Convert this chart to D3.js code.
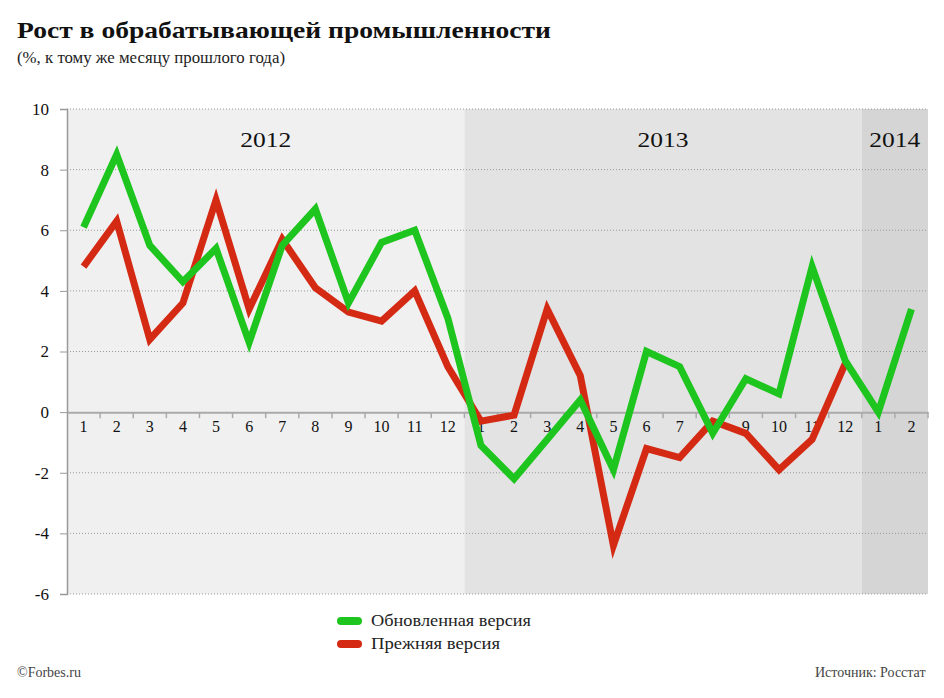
<!DOCTYPE html>
<html><head><meta charset="utf-8">
<script src="https://cdn.jsdelivr.net/npm/d3@7"></script>
<style>body{margin:0;background:#fff}svg{display:block}</style>
</head><body>
<svg id="c" width="944" height="698"></svg>
<script>
const months = ["1","2","3","4","5","6","7","8","9","10","11","12","1","2","3","4","5","6","7","8","9","10","11","12","1","2"];
const years = [{label:"2012", n:12},{label:"2013", n:12},{label:"2014", n:2}];
const updated = [6.1,8.5,5.5,4.3,5.4,2.3,5.5,6.7,3.6,5.6,6.0,3.1, -1.1,-2.2,-0.9,0.4,-1.9,2.0,1.5,-0.7,1.1,0.6,4.8,1.7, 0.0,3.4];
const previous = [4.8,6.3,2.4,3.6,7.0,3.4,5.7,4.1,3.3,3.0,4.0,1.5, -0.3,-0.1,3.4,1.2,-4.4,-1.2,-1.5,-0.3,-0.7,-1.9,-0.9,1.6];
const yTicks = [-6,-4,-2,0,2,4,6,8,10];
const seriesNames = ["Обновленная версия","Прежняя версия"];
const colors = ["#1ec51e","#d42a14"];
const yearFills = ["#f0f0f0","#e3e3e3","#d5d5d5"];

const svg = d3.select("#c");
const L=67, R=928, T=109, B=594;
const serif = "'Liberation Serif', serif";
const x = d3.scaleBand().domain(d3.range(months.length)).range([L,R]);
const y = d3.scaleLinear().domain([-6,10]).range([B,T]);
function fit(sel, w){ const n=sel.node(); const cw=n.getComputedTextLength(); if(Math.abs(cw-w)>2) sel.attr("textLength",w).attr("lengthAdjust","spacingAndGlyphs"); }

// year backgrounds
let start=0;
years.forEach((yr,i)=>{
  const x0 = x(start), x1 = x(start+yr.n-1)+x.bandwidth();
  svg.append("rect").attr("x",x0).attr("y",T).attr("width",x1-x0).attr("height",B-T).attr("fill",yearFills[i]);
  const t = svg.append("text").attr("x",(x0+x1)/2).attr("y",147).attr("text-anchor","middle")
    .attr("font-family",serif).attr("font-size",21).attr("fill","#111").text(yr.label);
  fit(t,51);
  start+=yr.n;
});

// grid
svg.append("g").selectAll("line").data(yTicks.filter(d=>d!==0)).join("line")
  .attr("x1",L).attr("x2",R).attr("y1",d=>y(d)).attr("y2",d=>y(d))
  .attr("stroke","#999").attr("stroke-width",1).attr("stroke-dasharray","1,2");

// y axis
const ya = svg.append("g").attr("transform",`translate(${L},0)`)
  .call(d3.axisLeft(y).tickValues(yTicks).tickSize(7).tickPadding(11).tickFormat(d=>d));
ya.attr("font-family",serif);
ya.select(".domain").attr("stroke","#999").attr("stroke-width",1.5);
ya.selectAll(".tick line").attr("stroke","#999");
ya.selectAll(".tick text").attr("font-family",serif).attr("font-size",17).attr("fill","#111");

// x axis at zero
const xa = svg.append("g").attr("transform",`translate(0,${y(0)})`)
  .call(d3.axisBottom(x).tickSize(0).tickPadding(9).tickFormat(i=>months[i]));
xa.attr("font-family",serif);
xa.select(".domain").attr("stroke","#aaa").attr("stroke-width",2);
xa.selectAll(".tick text").attr("font-family",serif).attr("font-size",16).attr("fill","#111");
svg.append("g").selectAll("line").data(d3.range(1,months.length+1)).join("line")
  .attr("x1",i=>i<months.length?x(i):R).attr("x2",i=>i<months.length?x(i):R)
  .attr("y1",y(0)).attr("y2",y(0)+6).attr("stroke","#aaa").attr("stroke-width",1.5);

// lines
const line = d3.line().x((d,i)=>x(i)+x.bandwidth()/2).y(d=>y(d));
[previous, updated].forEach((s,k)=>{
  svg.append("path").datum(s).attr("d",line).attr("fill","none")
    .attr("stroke",colors[1-k]).attr("stroke-width",7).attr("stroke-linejoin","miter").attr("stroke-miterlimit",4);
});

// title
const title = svg.append("text").attr("x",17).attr("y",38).attr("font-family",serif)
  .attr("font-weight","bold").attr("font-size",24).attr("fill","#111").text("Рост в обрабатывающей промышленности");
fit(title,534);
const sub = svg.append("text").attr("x",17).attr("y",63).attr("font-family",serif)
  .attr("font-size",17).attr("fill","#222").text("(%, к тому же месяцу прошлого года)");
fit(sub,268);

// legend
const legW = [160,129];
seriesNames.forEach((nm,i)=>{
  const cy = 621 + i*23;
  svg.append("line").attr("x1",341).attr("x2",358).attr("y1",cy).attr("y2",cy)
    .attr("stroke",colors[i]).attr("stroke-width",8).attr("stroke-linecap","round");
  const t = svg.append("text").attr("x",371).attr("y",cy+5).attr("font-family",serif)
    .attr("font-size",17).attr("fill","#222").text(nm);
  fit(t,legW[i]);
});

// footer
const f1 = svg.append("text").attr("x",17).attr("y",677).attr("font-family",serif)
  .attr("font-size",14).attr("fill","#444").text("©Forbes.ru");
fit(f1,65);
const f2 = svg.append("text").attr("x",815).attr("y",677).attr("font-family",serif)
  .attr("font-size",14).attr("fill","#444").text("Источник: Росстат");
fit(f2,109);
</script>
</body></html>
